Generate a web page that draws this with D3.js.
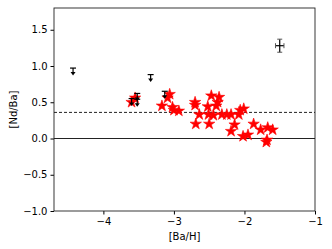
<!DOCTYPE html>
<html>
<head>
<meta charset="utf-8">
<script src="https://cdn.jsdelivr.net/npm/d3@7"></script>
<style>
  body { margin: 0; background: #fff; }
  .chart text { font-family: "DejaVu Sans", sans-serif; }
</style>
</head>
<body>
<div class="chart"></div>
<script>
// stars: [Ba/H], [Nd/Ba]
const starBaH = [-3.60, -3.55, -3.17, -3.09, -3.06, -3.02, -3.00, -2.93, -2.70, -2.70,
                 -2.69, -2.64, -2.52, -2.51, -2.50, -2.47, -2.44, -2.40, -2.38, -2.36,
                 -2.32, -2.25, -2.19, -2.19, -2.14, -2.08, -2.06, -2.01, -2.02, -1.95,
                 -1.87, -1.77, -1.67, -1.60, -1.69, -1.68];
const starNdBa = [0.50, 0.56, 0.45, 0.56, 0.61, 0.43, 0.39, 0.38, 0.50, 0.46,
                  0.20, 0.33, 0.44, 0.33, 0.20, 0.59, 0.32, 0.45, 0.50, 0.57,
                  0.33, 0.33, 0.33, 0.10, 0.19, 0.33, 0.39, 0.41, 0.03, 0.05,
                  0.20, 0.12, 0.15, 0.12, -0.05, -0.02];

// upper limits
const limBaH = [-4.43, -3.60, -3.52, -3.52, -3.33, -3.13];
const limNdBa = [0.93, 0.51, 0.58, 0.50, 0.84, 0.61];

// typical error bar
const errX = [-1.50], errY = [1.28], errXe = [0.06], errYe = [0.09];

const meanLine = 0.36;
const xTicks = [-4, -3, -2, -1];
const yTicks = [-1.0, -0.5, 0.0, 0.5, 1.0, 1.5];

let chart = {};
chart.margin = { top: 8, right: 17, bottom: 38, left: 54 };
chart.width = 332 - chart.margin.left - chart.margin.right;
chart.height = 249 - chart.margin.top - chart.margin.bottom;

chart.svg = d3.select(".chart").append("svg")
    .attr("width", 332).attr("height", 249);
chart.plot = chart.svg.append("g")
    .attr("transform", `translate(${chart.margin.left},${chart.margin.top})`);

chart.x = d3.scaleLinear().domain([-4.7, -1]).range([0, chart.width]);
chart.y = d3.scaleLinear().domain([-1, 1.8]).range([chart.height, 0]);

// reference lines
chart.plot.append("line")
    .attr("x1", 0).attr("x2", chart.width)
    .attr("y1", chart.y(0)).attr("y2", chart.y(0))
    .attr("stroke", "#222").attr("stroke-width", 1.2);
chart.plot.append("line")
    .attr("x1", 0).attr("x2", chart.width)
    .attr("y1", chart.y(meanLine)).attr("y2", chart.y(meanLine))
    .attr("stroke", "#222").attr("stroke-width", 1).attr("stroke-dasharray", "3,2");

// stars
const star = d3.symbol().type(d3.symbolStar).size(40);
chart.plot.append("g").selectAll("path")
    .data(starBaH.map((v, i) => [v, starNdBa[i]]))
    .join("path")
    .attr("d", star)
    .attr("transform", d => `translate(${chart.x(d[0])},${chart.y(d[1])})`)
    .attr("fill", "red").attr("stroke", "red").attr("stroke-width", 0.6);

// upper limit glyphs
const lims = chart.plot.append("g").selectAll("g")
    .data(limBaH.map((v, i) => [v, limNdBa[i]]))
    .join("g")
    .attr("transform", d => `translate(${chart.x(d[0])},${chart.y(d[1])})`);
lims.append("line").attr("x1", -3).attr("x2", 3).attr("y1", -3).attr("y2", -3)
    .attr("stroke", "#000").attr("stroke-width", 1.2);
lims.append("line").attr("x1", 0).attr("x2", 0).attr("y1", -3).attr("y2", 2)
    .attr("stroke", "#000").attr("stroke-width", 1.2);
lims.append("path").attr("d", "M-2.5,1 L2.5,1 L0,4.5 Z").attr("fill", "#000");

// typical error cross
const err = chart.plot.append("g").selectAll("g")
    .data(errX.map((v, i) => ({ x: v, y: errY[i], xe: errXe[i], ye: errYe[i] })))
    .join("g");
err.append("line")
    .attr("x1", d => chart.x(d.x - d.xe)).attr("x2", d => chart.x(d.x + d.xe))
    .attr("y1", d => chart.y(d.y)).attr("y2", d => chart.y(d.y))
    .attr("stroke", "#000").attr("stroke-width", 1.2);
err.append("line")
    .attr("x1", d => chart.x(d.x)).attr("x2", d => chart.x(d.x))
    .attr("y1", d => chart.y(d.y - d.ye)).attr("y2", d => chart.y(d.y + d.ye))
    .attr("stroke", "#000").attr("stroke-width", 1.2);
err.each(function(d) {
    const g = d3.select(this);
    [d.x - d.xe, d.x + d.xe].forEach(v => g.append("line")
        .attr("x1", chart.x(v)).attr("x2", chart.x(v))
        .attr("y1", chart.y(d.y) - 2.5).attr("y2", chart.y(d.y) + 2.5)
        .attr("stroke", "#555").attr("stroke-width", 1));
    [d.y - d.ye, d.y + d.ye].forEach(v => g.append("line")
        .attr("x1", chart.x(d.x) - 2.5).attr("x2", chart.x(d.x) + 2.5)
        .attr("y1", chart.y(v)).attr("y2", chart.y(v))
        .attr("stroke", "#555").attr("stroke-width", 1));
});

// axes
const fmtY = d => d3.format(".1f")(d).replace("-", "\u2212");
chart.plot.append("g")
    .attr("transform", `translate(0,${chart.height})`)
    .call(d3.axisBottom(chart.x).tickValues(xTicks).tickSize(3.5).tickPadding(3)
        .tickFormat(d => String(d).replace("-", "\u2212")))
    .call(g => g.select(".domain").remove())
    .call(g => g.selectAll("text").attr("font-size", 10).attr("fill", "#000"));
chart.plot.append("g")
    .call(d3.axisLeft(chart.y).tickValues(yTicks).tickSize(3.5).tickPadding(3).tickFormat(fmtY))
    .call(g => g.select(".domain").remove())
    .call(g => g.selectAll("text").attr("font-size", 10).attr("fill", "#000"));

// frame
chart.plot.append("rect")
    .attr("width", chart.width).attr("height", chart.height)
    .attr("fill", "none").attr("stroke", "#222").attr("stroke-width", 0.9);

// labels
chart.svg.append("text")
    .attr("x", chart.margin.left + chart.width / 2).attr("y", 240)
    .attr("text-anchor", "middle").attr("font-size", 10).text("[Ba/H]");
chart.svg.append("text")
    .attr("transform", `translate(17,${chart.margin.top + chart.height / 2}) rotate(-90)`)
    .attr("text-anchor", "middle").attr("font-size", 10).text("[Nd/Ba]");
</script>
</body>
</html>
